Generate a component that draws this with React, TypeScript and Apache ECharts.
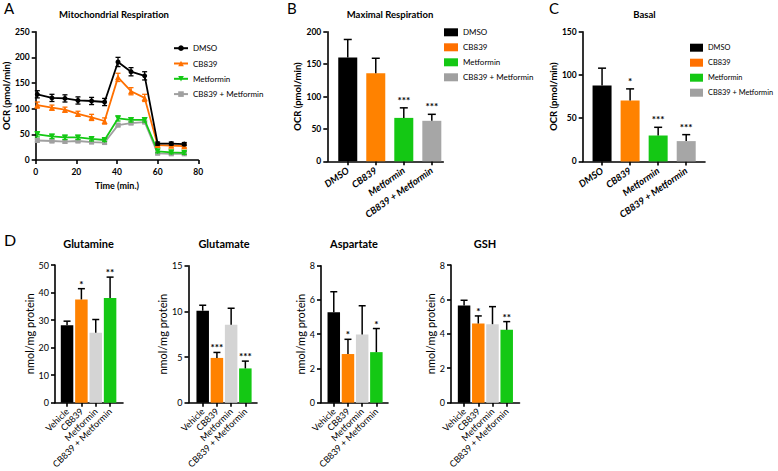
import React, { useEffect, useRef } from 'react';
import * as echarts from 'echarts';

const FONT = 'Lato, "Liberation Sans", "DejaVu Sans", sans-serif';

// ---------- Panel A: Mitochondrial Respiration (OCR time course) ----------
const groupNames = ['DMSO', 'CB839', 'Metformin', 'CB839 + Metformin'];
const timeMin = [0.8, 8.0, 14.4, 20.8, 27.5, 33.9, 40.5, 46.9, 53.6, 60.0, 66.7, 73.1];
const ocrDmso = [128, 121, 120, 116, 115, 113, 191, 172, 164, 32, 32, 31];
const ocrDmsoErr = [7, 7, 7, 7, 7, 7, 9, 8, 8, 3, 3, 3];
const ocrCb839 = [107, 102, 98, 90, 83, 76, 161, 134, 121, 29, 28, 27];
const ocrCb839Err = [6, 5, 5, 5, 6, 6, 8, 7, 7, 3, 3, 3];
const ocrMetformin = [50, 46, 44, 44, 41, 39, 81, 78, 78, 17, 15, 14];
const ocrMetforminErr = [5, 4, 4, 4, 4, 3, 5, 4, 4, 3, 3, 3];
const ocrCombo = [38, 37, 36, 37, 35, 34, 68, 72, 74, 13, 12, 12];
const ocrComboErr = [3, 3, 3, 3, 3, 3, 3, 3, 3, 2, 2, 2];

// ---------- Panel B: Maximal Respiration ----------
const ocrCats = ['DMSO', 'CB839', 'Metformin', 'CB839 + Metformin'];
const maximalResp = [160, 136, 67, 62.5];
const maximalRespErr = [28, 23, 15.5, 10];
const maximalRespSig = ['', '', '***', '***'];

// ---------- Panel C: Basal ----------
const basalResp = [88, 70.5, 30, 23.5];
const basalRespErr = [20, 13.5, 9.5, 7.5];
const basalRespSig = ['', '*', '***', '***'];

// ---------- Panel D: metabolites (nmol/mg protein) ----------
const metCats = ['Vehicle', 'CB839', 'Metformin', 'CB839 + Metformin'];
const glutamine = [28.1, 37.5, 25.4, 38.0];
const glutamineErr = [1.5, 3.9, 4.8, 7.6];
const glutamineSig = ['', '*', '', '**'];
const glutamate = [10.07, 4.9, 8.54, 3.75];
const glutamateErr = [0.6, 0.6, 1.8, 0.8];
const glutamateSig = ['', '***', '', '***'];
const aspartate = [5.28, 2.84, 3.98, 2.95];
const aspartateErr = [1.2, 0.86, 1.68, 1.38];
const aspartateSig = ['', '*', '', '*'];
const gsh = [5.65, 4.6, 4.56, 4.23];
const gshErr = [0.3, 0.44, 1.02, 0.48];
const gshSig = ['', '*', '', '**'];

// ---------- styling ----------
const BLACK = '#000000';
const ORANGE = '#FF8200';
const GREEN = '#14C814';
const GRAY = '#A6A6A6';
const LIGHTGRAY = '#D4D4D4';
const ocrColors = [BLACK, ORANGE, GREEN, GRAY];
const metColors = [BLACK, ORANGE, LIGHTGRAY, GREEN];

function buildOption() {
  const grids: any[] = [];
  const xAxes: any[] = [];
  const yAxes: any[] = [];
  const series: any[] = [];

  const axisLineStyle = { color: '#000', width: 1.6 };

  // ---- Panel A ----
  grids.push({ left: 31.7, top: 31.7, width: 166.6, height: 128.3 });
  xAxes.push({
    type: 'value', gridIndex: 0, min: 0, max: 80, interval: 20,
    axisLine: { show: true, onZero: false, lineStyle: axisLineStyle },
    axisTick: { show: true, length: 4, lineStyle: axisLineStyle },
    axisLabel: { margin: 7, color: '#000', fontFamily: FONT, fontSize: 8.5, fontWeight: 'bold' },
    splitLine: { show: false },
    name: 'Time (min.)', nameLocation: 'middle', nameGap: 21,
    nameTextStyle: { color: '#000', fontFamily: FONT, fontSize: 9, fontWeight: 'bold' },
  });
  yAxes.push({
    type: 'value', gridIndex: 0, min: 0, max: 250, interval: 50,
    axisLine: { show: true, onZero: false, lineStyle: axisLineStyle },
    axisTick: { show: true, length: 4, lineStyle: axisLineStyle },
    axisLabel: { margin: 6, color: '#000', fontFamily: FONT, fontSize: 8.5, fontWeight: 'bold' },
    splitLine: { show: false },
    name: 'OCR (pmol/min)', nameLocation: 'middle', nameGap: 22,
    nameTextStyle: { color: '#000', fontFamily: FONT, fontSize: 9.5, fontWeight: 'bold' },
  });

  const lineSets = [
    { name: groupNames[0], v: ocrDmso, e: ocrDmsoErr, symbol: 'circle', rot: 0, size: 5 },
    { name: groupNames[1], v: ocrCb839, e: ocrCb839Err, symbol: 'triangle', rot: 0, size: 6 },
    { name: groupNames[2], v: ocrMetformin, e: ocrMetforminErr, symbol: 'triangle', rot: 180, size: 6 },
    { name: groupNames[3], v: ocrCombo, e: ocrComboErr, symbol: 'rect', rot: 0, size: 5 },
  ];
  const lineColors = [BLACK, '#FF7000', GREEN, '#A0A0A0'];
  lineSets.forEach((s, k) => {
    series.push({
      type: 'line', name: s.name, xAxisIndex: 0, yAxisIndex: 0,
      data: timeMin.map((t, i) => [t, s.v[i]]),
      symbol: s.symbol, symbolRotate: s.rot, symbolSize: s.size, showAllSymbol: true,
      lineStyle: { color: lineColors[k], width: 1.8 },
      itemStyle: { color: lineColors[k], borderWidth: 0 },
      z: 3 + (3 - k),
    });
  });
  lineSets.forEach((s, k) => {
    series.push({
      type: 'custom', name: s.name + ' SEM', xAxisIndex: 0, yAxisIndex: 0,
      data: timeMin.map((t, i) => [t, s.v[i], s.e[i]]),
      z: 3 + (3 - k),
      renderItem: (params: any, api: any) => {
        const x = api.value(0), v = api.value(1), e = api.value(2);
        const lo = api.coord([x, v - e]);
        const hi = api.coord([x, v + e]);
        const st = { stroke: lineColors[k], lineWidth: 1.3 };
        return {
          type: 'group',
          children: [
            { type: 'line', shape: { x1: lo[0], y1: lo[1], x2: hi[0], y2: hi[1] }, style: st },
            { type: 'line', shape: { x1: hi[0] - 2.5, y1: hi[1], x2: hi[0] + 2.5, y2: hi[1] }, style: st },
            { type: 'line', shape: { x1: lo[0] - 2.5, y1: lo[1], x2: lo[0] + 2.5, y2: lo[1] }, style: st },
          ],
        };
      },
    });
  });

  // ---- Bar panels ----
  type Panel = {
    left: number; top: number; width: number; height: number;
    xMin: number; xMax: number; yMax: number; yInt: number;
    barW: number; cap: number; cats: string[]; values: number[]; errs: number[]; sigs: string[];
    colors: string[]; yName: string; nameGap: number; big: boolean; sigOff: number;
  };
  const panels: Panel[] = [
    { left: 327.3, top: 31.7, width: 116, height: 129.6, xMin: -0.73, xMax: 3.41, yMax: 200, yInt: 50,
      barW: 19, cap: 8, cats: ocrCats, values: maximalResp, errs: maximalRespErr, sigs: maximalRespSig,
      colors: ocrColors, yName: 'OCR (pmol/min)', nameGap: 21, big: true, sigOff: 3 },
    { left: 582.7, top: 31.9, width: 122.3, height: 129.5, xMin: -0.69, xMax: 3.67, yMax: 150, yInt: 50,
      barW: 19, cap: 8, cats: ocrCats, values: basalResp, errs: basalRespErr, sigs: basalRespSig,
      colors: ocrColors, yName: 'OCR (pmol/min)', nameGap: 21, big: true, sigOff: 3 },
    { left: 55, top: 265, width: 68, height: 139, xMin: -0.84, xMax: 3.9, yMax: 50, yInt: 10,
      barW: 12.5, cap: 7, cats: metCats, values: glutamine, errs: glutamineErr, sigs: glutamineSig,
      colors: metColors, yName: 'nmol/mg protein', nameGap: 18.5, big: false, sigOff: 0 },
    { left: 188.5, top: 265.7, width: 68.5, height: 140, xMin: -1.0, xMax: 3.82, yMax: 15, yInt: 5,
      barW: 12.5, cap: 7, cats: metCats, values: glutamate, errs: glutamateErr, sigs: glutamateSig,
      colors: metColors, yName: 'nmol/mg protein', nameGap: 18, big: false, sigOff: 0 },
    { left: 321, top: 265.7, width: 67, height: 140, xMin: -0.9, xMax: 3.82, yMax: 8, yInt: 2,
      barW: 12.5, cap: 7, cats: metCats, values: aspartate, errs: aspartateErr, sigs: aspartateSig,
      colors: metColors, yName: 'nmol/mg protein', nameGap: 15, big: false, sigOff: 0 },
    { left: 451, top: 265, width: 68.5, height: 139.3, xMin: -0.92, xMax: 3.9, yMax: 8, yInt: 2,
      barW: 12.5, cap: 7, cats: metCats, values: gsh, errs: gshErr, sigs: gshSig,
      colors: metColors, yName: 'nmol/mg protein', nameGap: 13, big: false, sigOff: 0 },
  ];

  panels.forEach((p, j) => {
    const gi = j + 1;
    grids.push({ left: p.left, top: p.top, width: p.width, height: p.height });
    const idx = p.cats.map((_, i) => i);
    xAxes.push({
      type: 'value', gridIndex: gi, min: p.xMin, max: p.xMax,
      axisLine: { show: true, onZero: false, lineStyle: axisLineStyle },
      axisTick: { show: true, customValues: idx, length: 4, lineStyle: axisLineStyle },
      axisLabel: {
        customValues: idx,
        formatter: (v: number) => p.cats[Math.round(v)] ?? '',
        rotate: p.big ? 35 : 45,
        margin: p.big ? 8 : 7,
        color: '#000', fontFamily: FONT,
        fontSize: p.big ? 9.5 : 9,
        fontWeight: p.big ? 'bold' : 'normal',
        fontStyle: p.big ? 'italic' : 'normal',
      },
      splitLine: { show: false },
    });
    yAxes.push({
      type: 'value', gridIndex: gi, min: 0, max: p.yMax, interval: p.yInt,
      axisLine: { show: true, onZero: false, lineStyle: axisLineStyle },
      axisTick: { show: true, length: 4, lineStyle: axisLineStyle },
      axisLabel: {
        margin: 6, color: '#000', fontFamily: FONT,
        fontSize: p.big ? 8.5 : 9, fontWeight: p.big ? 'bold' : 'normal',
      },
      splitLine: { show: false },
      name: p.yName, nameLocation: 'middle', nameGap: p.nameGap,
      nameTextStyle: {
        color: '#000', fontFamily: FONT,
        fontSize: p.big ? 9.5 : 11, fontWeight: p.big ? 'bold' : 'normal',
      },
    });
    series.push({
      type: 'bar', name: 'bars' + gi, xAxisIndex: gi, yAxisIndex: gi,
      barWidth: p.barW,
      data: p.values.map((v, i) => ({ value: [i, v], itemStyle: { color: p.colors[i] } })),
      z: 2,
    });
    series.push({
      type: 'custom', name: 'err' + gi, xAxisIndex: gi, yAxisIndex: gi,
      data: p.values.map((v, i) => [i, v, p.errs[i]]),
      z: 4,
      renderItem: (params: any, api: any) => {
        const x = api.value(0), v = api.value(1), e = api.value(2);
        const base = api.coord([x, v]);
        const top = api.coord([x, v + e]);
        const st = { stroke: '#000', lineWidth: 1.5 };
        const children: any[] = [
          { type: 'line', shape: { x1: base[0], y1: base[1], x2: top[0], y2: top[1] }, style: st },
          { type: 'line', shape: { x1: top[0] - p.cap / 2, y1: top[1], x2: top[0] + p.cap / 2, y2: top[1] }, style: st },
        ];
        const sig = p.sigs[params.dataIndex];
        if (sig) {
          children.push({
            type: 'text', x: top[0], y: top[1] - p.sigOff,
            style: {
              text: sig, fill: '#000', fontFamily: FONT, fontSize: 10, fontWeight: 'bold',
              align: 'center', verticalAlign: 'bottom', textAlign: 'center', textVerticalAlign: 'bottom',
            },
          });
        }
        return { type: 'group', children };
      },
    });
  });

  const legendText = (size: number, lh: number) => ({ color: '#000', fontFamily: FONT, fontSize: size, lineHeight: lh });

  const legend = [
    {
      data: groupNames, orient: 'vertical', left: 173, top: 44.2, padding: 0,
      itemWidth: 14, itemHeight: 7, itemGap: 7.3, selectedMode: false,
      textStyle: legendText(8, 7),
    },
    {
      data: groupNames.map((n) => ({ name: n, icon: 'rect' })), orient: 'vertical', left: 444, top: 28.3, padding: 0,
      itemWidth: 14, itemHeight: 8, itemGap: 7, selectedMode: false,
      itemStyle: { borderWidth: 0 },
      textStyle: legendText(8, 8),
    },
    {
      data: groupNames.map((n) => ({ name: n, icon: 'rect' })), orient: 'vertical', left: 690, top: 43.7, padding: 0,
      itemWidth: 13, itemHeight: 8, itemGap: 7, selectedMode: false,
      itemStyle: { borderWidth: 0 },
      textStyle: legendText(7.4, 8),
    },
  ];

  const txt = (text: string, x: number, y: number, size: number, weight: string, align = 'center') => ({
    type: 'text', x, y, silent: true,
    style: {
      text, fill: '#000', fontFamily: FONT, fontSize: size, fontWeight: weight,
      align, verticalAlign: 'middle', textAlign: align, textVerticalAlign: 'middle',
    },
  });

  const graphic = [
    txt('A', 4, 8, 15, 'normal', 'left'),
    txt('B', 287, 8, 15, 'normal', 'left'),
    txt('C', 549, 8, 15, 'normal', 'left'),
    txt('D', 4, 239.5, 16, 'normal', 'left'),
    txt('Mitochondrial Respiration', 114, 14, 9.5, 'bold'),
    txt('Maximal Respiration', 390, 14, 9.5, 'bold'),
    txt('Basal', 644.5, 14, 9.5, 'bold'),
    txt('Glutamine', 88.5, 243, 11, 'bold'),
    txt('Glutamate', 224, 243, 11, 'bold'),
    txt('Aspartate', 354, 243, 11, 'bold'),
    txt('GSH', 485, 243, 11, 'bold'),
  ];

  return {
    animation: false,
    backgroundColor: '#ffffff',
    textStyle: { fontFamily: FONT },
    grid: grids,
    xAxis: xAxes,
    yAxis: yAxes,
    series,
    legend,
    graphic,
  };
}

export default function App() {
  const ref = useRef<HTMLDivElement>(null);
  useEffect(() => {
    if (!ref.current) return;
    const chart = echarts.init(ref.current, undefined, { renderer: 'svg' });
    chart.setOption(buildOption() as any);
    return () => chart.dispose();
  }, []);
  return (
    <div
      ref={ref}
      style={{ position: 'absolute', left: 0, top: 0, width: 778, height: 471, background: '#fff' }}
    />
  );
}
